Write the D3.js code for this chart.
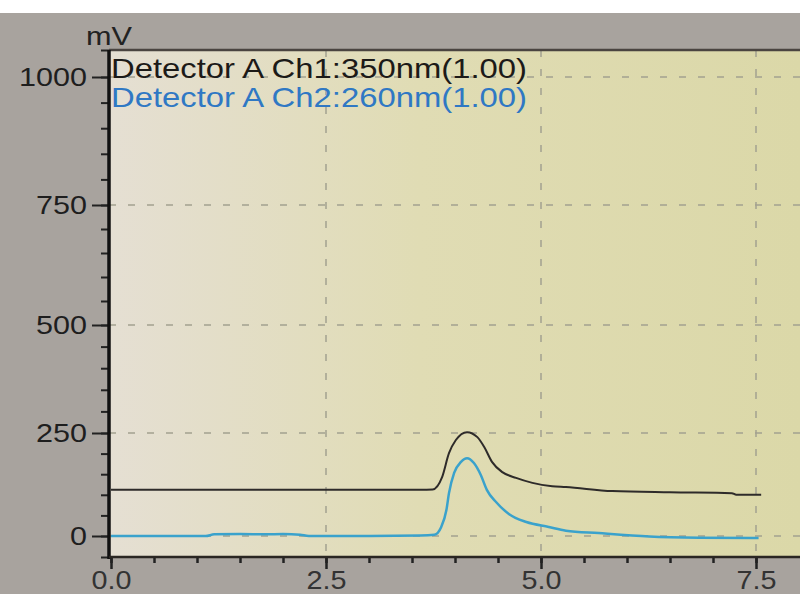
<!DOCTYPE html>
<html>
<head>
<meta charset="utf-8">
<script src="https://cdn.jsdelivr.net/npm/d3@7"></script>
<style>
  body { margin: 0; background: #a8a39e; }
  svg { display: block; }
  text { font-family: "Liberation Sans", Arial, sans-serif; }
</style>
</head>
<body>
<svg></svg>
<script>
// retention time (min) and signal (mV)
const ch1Time = [0, 1.0, 2.0, 3.0, 3.6, 3.74, 3.85, 3.93, 4.01, 4.14, 4.26, 4.34, 4.43, 4.55, 4.71, 4.90, 5.13, 5.29, 5.83, 6.5, 7.22, 7.27, 7.56];
const ch1Vals = [112, 112, 112, 112, 112, 113, 143, 201, 233, 252, 240, 216, 180, 155, 141, 129, 121, 119, 109, 106, 104, 100, 100];

const ch2Time = [0, 1.1, 1.2, 1.5, 1.8, 2.0, 2.2, 2.3, 3.0, 3.6, 3.76, 3.84, 3.90, 3.93, 3.99, 4.07, 4.14, 4.22, 4.30, 4.37, 4.48, 4.63, 4.83, 5.09, 5.29, 5.67, 6.26, 6.84, 7.53];
const ch2Vals = [0, 0, 4, 5, 4, 5, 3, 0, 0, 1, 3, 22, 63, 104, 153, 180, 189, 177, 148, 112, 82, 53, 34, 22, 13, 7, -1, -4, -5];

const legendLabels = ['Detector A Ch1:350nm(1.00)', 'Detector A Ch2:260nm(1.00)'];
const yMajor = [0, 250, 500, 750, 1000];
const xMajor = [0, 2.5, 5.0, 7.5];

const W = 800, H = 594;
const svg = d3.select('svg').attr('width', W).attr('height', H);

// the photo is a bit keystoned, so y uses a piecewise scale
const y = d3.scaleLinear()
    .domain([-50, 0, 250, 500, 750, 1000, 1050])
    .range([557, 536, 433, 325, 205, 77, 50]);
const x = d3.scaleLinear().domain([0, 8]).range([111, 799]);

const plot = {l: 109, t: 50, r: 800, b: 557};

svg.append('rect').attr('width', W).attr('height', H).attr('fill', '#a8a39e');
svg.append('rect').attr('width', W).attr('height', 13).attr('fill', '#ffffff');

const grad = svg.append('defs').append('linearGradient').attr('id', 'bg');
grad.append('stop').attr('offset', '0%').attr('stop-color', '#e5dfd3');
grad.append('stop').attr('offset', '45%').attr('stop-color', '#e0dcb4');
grad.append('stop').attr('offset', '100%').attr('stop-color', '#dbd8a8');

svg.append('rect')
    .attr('x', plot.l).attr('y', plot.t)
    .attr('width', plot.r - plot.l).attr('height', plot.b - plot.t)
    .attr('fill', 'url(#bg)');

// dashed grid
svg.append('g').selectAll('line').data(yMajor).join('line')
    .attr('x1', plot.l).attr('x2', plot.r)
    .attr('y1', d => y(d)).attr('y2', d => y(d))
    .attr('stroke', '#a3a190').attr('stroke-width', 1.5)
    .attr('stroke-dasharray', '7,12');
svg.append('g').selectAll('line').data(xMajor.slice(1)).join('line')
    .attr('x1', d => x(d)).attr('x2', d => x(d))
    .attr('y1', plot.t).attr('y2', plot.b)
    .attr('stroke', '#a3a190').attr('stroke-width', 1.5)
    .attr('stroke-dasharray', '7,12');

// top border
svg.append('line')
    .attr('x1', plot.l).attr('x2', plot.r)
    .attr('y1', plot.t).attr('y2', plot.t)
    .attr('stroke', '#4a4440').attr('stroke-width', 2.5);

const line = d3.line().x(d => x(d[0])).y(d => y(d[1])).curve(d3.curveMonotoneX);

svg.append('path')
    .datum(d3.zip(ch1Time, ch1Vals))
    .attr('d', line)
    .attr('fill', 'none').attr('stroke', '#2e2b2a').attr('stroke-width', 2);
svg.append('path')
    .datum(d3.zip(ch2Time, ch2Vals))
    .attr('d', line)
    .attr('fill', 'none').attr('stroke', '#3aa2cc').attr('stroke-width', 2.5);

// y axis: minor ticks every 50, majors labelled
const yMinorG = svg.append('g').attr('transform', `translate(${plot.l},0)`)
    .call(d3.axisLeft(y).tickValues(d3.range(-50, 1051, 50)).tickSize(8).tickFormat(''));
const yAxisG = svg.append('g').attr('transform', `translate(${plot.l},0)`)
    .call(d3.axisLeft(y).tickValues(yMajor).tickSize(17).tickPadding(5).tickFormat(d3.format('d')));
[yMinorG, yAxisG].forEach(g => {
  g.select('.domain').remove();
  g.selectAll('line').attr('stroke', '#222').attr('stroke-width', 2);
});
yAxisG.selectAll('text')
    .attr('fill', '#1e1e1e').attr('font-size', 26)
    .attr('textLength', d => String(d).length * 17)
    .attr('lengthAdjust', 'spacingAndGlyphs');

svg.append('line')
    .attr('x1', plot.l).attr('x2', plot.l)
    .attr('y1', plot.t).attr('y2', plot.b + 2)
    .attr('stroke', '#111').attr('stroke-width', 3.5);

// x axis
const xMinorG = svg.append('g').attr('transform', `translate(0,${plot.b})`)
    .call(d3.axisBottom(x).tickValues(d3.range(0, 7.76, 0.5)).tickSize(6).tickFormat(''));
const xAxisG = svg.append('g').attr('transform', `translate(0,${plot.b})`)
    .call(d3.axisBottom(x).tickValues(xMajor).tickSize(12).tickPadding(2).tickFormat(d3.format('.1f')));
[xMinorG, xAxisG].forEach(g => {
  g.select('.domain').remove();
  g.selectAll('line').attr('stroke', '#222').attr('stroke-width', 2.5);
});
xAxisG.selectAll('text')
    .attr('fill', '#333').attr('font-size', 25)
    .attr('textLength', 40).attr('lengthAdjust', 'spacingAndGlyphs');

svg.append('line')
    .attr('x1', plot.l).attr('x2', plot.r)
    .attr('y1', plot.b).attr('y2', plot.b)
    .attr('stroke', '#2a2622').attr('stroke-width', 2.5);

// unit label
svg.append('text')
    .attr('x', 86).attr('y', 45)
    .attr('font-size', 26).attr('fill', '#222')
    .attr('textLength', 46).attr('lengthAdjust', 'spacingAndGlyphs')
    .text('mV');

// legend
svg.append('g').selectAll('text').data(legendLabels).join('text')
    .attr('x', 111)
    .attr('y', (d, i) => 78 + i * 29)
    .attr('font-size', 28)
    .attr('fill', (d, i) => i === 0 ? '#1c1a18' : '#2f78c4')
    .attr('textLength', 416).attr('lengthAdjust', 'spacingAndGlyphs')
    .text(d => d);
</script>
</body>
</html>
